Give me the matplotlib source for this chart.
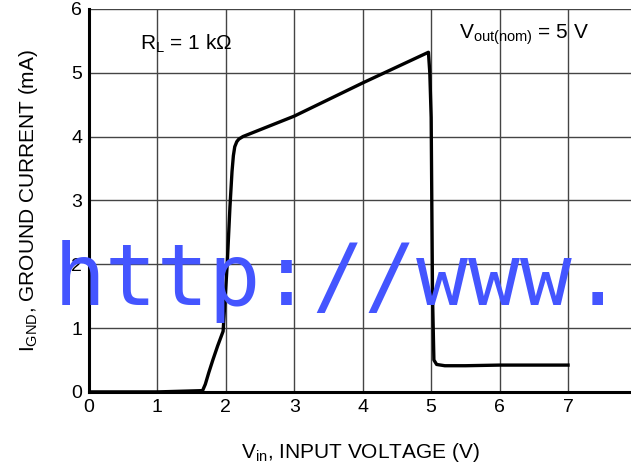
import matplotlib
matplotlib.use("Agg")
import matplotlib.pyplot as plt

# ground current vs input voltage
vin = [0.0, 1.0, 1.66, 1.70, 1.75, 1.81, 1.88, 1.96, 2.02, 2.06, 2.09,
       2.11, 2.13, 2.16, 2.19, 2.25, 3.0, 4.0, 4.96, 4.98, 5.00, 5.02,
       5.04, 5.08, 5.2, 5.5, 6.0, 6.5, 7.0]
ignd = [0.0, 0.0, 0.02, 0.12, 0.3, 0.5, 0.72, 0.95, 2.0, 2.9, 3.45,
        3.7, 3.84, 3.92, 3.96, 4.0, 4.32, 4.84, 5.32, 5.0, 4.3, 1.5,
        0.5, 0.43, 0.41, 0.41, 0.42, 0.42, 0.42]

xticks = [0, 1, 2, 3, 4, 5, 6, 7]
yticks = [0, 1, 2, 3, 4, 5, 6]

plt.rcParams['font.family'] = ['Liberation Sans', 'DejaVu Sans']
plt.rcParams['mathtext.fontset'] = 'custom'
plt.rcParams['mathtext.rm'] = 'Liberation Sans'
plt.rcParams['mathtext.it'] = 'Liberation Sans'

fig = plt.figure(figsize=(6.31, 4.66), dpi=100)
ax = fig.add_axes([0.141, 0.159, 0.859, 0.822])

ax.plot(vin, ignd, color="black", linewidth=2.4, solid_joinstyle="round",
        zorder=3)

ax.set_xlim(0, 7.92)
ax.set_ylim(0, 6)
ax.set_xticks(xticks)
ax.set_yticks(yticks)
ax.tick_params(length=0, labelsize=14, pad=5)
ax.grid(True, color="#444444", linewidth=1.0)
ax.set_axisbelow(True)

for s in ["top", "right"]:
    ax.spines[s].set_visible(False)
for s in ["left", "bottom"]:
    ax.spines[s].set_linewidth(2.2)
    ax.spines[s].set_zorder(4)

ax.set_xlabel("V$_{\\mathrm{in}}$, INPUT VOLTAGE (V)", fontsize=15, labelpad=18)
ax.set_ylabel("I$_{\\mathrm{GND}}$, GROUND CURRENT (mA)", fontsize=15, labelpad=22)

ax.text(0.75, 5.45, "R$_{\\mathrm{L}}$ = 1 kΩ", fontsize=15, ha="left", va="center")
ax.text(5.4, 5.6, "V$_{\\mathrm{out(nom)}}$ = 5 V", fontsize=15, ha="left", va="center")

# watermark
fig.text(0.085, 0.345, "http://www.", fontsize=62, color="#4455ff",
         family="DejaVu Sans Mono", ha="left", va="baseline", zorder=10)

fig.savefig("out.png", dpi=100)
